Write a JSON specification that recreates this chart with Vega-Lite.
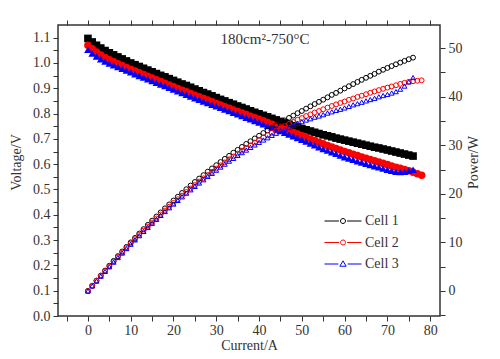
{
  "$schema": "https://vega.github.io/schema/vega-lite/v6.json",
  "width": 382,
  "height": 291,
  "autosize": {"type": "none"},
  "padding": {"left": 58, "top": 25, "right": 60, "bottom": 43},
  "background": "white",
  "title": {"text": "180cm²-750°C", "orient": "top", "anchor": "middle", "offset": -27, "dx": 16, "font": "Liberation Serif", "fontSize": 15, "fontWeight": "normal", "color": "#333"},
  "config": {
    "view": {"stroke": "#333", "strokeWidth": 1.5},
    "font": "Liberation Serif",
    "axis": {"labelFont": "Liberation Serif", "titleFont": "Liberation Serif", "labelFontSize": 14, "titleFontSize": 14, "titleFontWeight": "normal", "labelColor": "#333", "titleColor": "#333", "tickColor": "#333", "tickWidth": 1, "grid": false, "domain": false, "labelFlush": false, "labelOverlap": false, "labelBound": false},
    "legend": {"orient": "none", "legendX": 266, "legendY": 186, "title": null, "symbolSize": 1369, "clipHeight": 20, "rowPadding": 1.5, "labelFont": "Liberation Serif", "labelFontSize": 14, "labelColor": "#333", "labelOffset": 3, "symbolStrokeWidth": 1, "symbolOpacity": 1}
  },
  "data": {"values": [
{"cell":"Cell 1","current":0,"voltage":1.097,"power":0},
{"cell":"Cell 1","current":1,"voltage":1.083,"power":1.08},
{"cell":"Cell 1","current":2,"voltage":1.070,"power":2.14},
{"cell":"Cell 1","current":3,"voltage":1.059,"power":3.18},
{"cell":"Cell 1","current":4,"voltage":1.049,"power":4.20},
{"cell":"Cell 1","current":5,"voltage":1.040,"power":5.20},
{"cell":"Cell 1","current":6,"voltage":1.032,"power":6.19},
{"cell":"Cell 1","current":7,"voltage":1.024,"power":7.17},
{"cell":"Cell 1","current":8,"voltage":1.016,"power":8.13},
{"cell":"Cell 1","current":9,"voltage":1.008,"power":9.07},
{"cell":"Cell 1","current":10,"voltage":1.000,"power":10.00},
{"cell":"Cell 1","current":11,"voltage":0.993,"power":10.92},
{"cell":"Cell 1","current":12,"voltage":0.986,"power":11.83},
{"cell":"Cell 1","current":13,"voltage":0.979,"power":12.73},
{"cell":"Cell 1","current":14,"voltage":0.972,"power":13.61},
{"cell":"Cell 1","current":15,"voltage":0.965,"power":14.48},
{"cell":"Cell 1","current":16,"voltage":0.958,"power":15.33},
{"cell":"Cell 1","current":17,"voltage":0.951,"power":16.17},
{"cell":"Cell 1","current":18,"voltage":0.945,"power":17.01},
{"cell":"Cell 1","current":19,"voltage":0.938,"power":17.82},
{"cell":"Cell 1","current":20,"voltage":0.931,"power":18.62},
{"cell":"Cell 1","current":21,"voltage":0.924,"power":19.40},
{"cell":"Cell 1","current":22,"voltage":0.917,"power":20.17},
{"cell":"Cell 1","current":23,"voltage":0.911,"power":20.95},
{"cell":"Cell 1","current":24,"voltage":0.904,"power":21.70},
{"cell":"Cell 1","current":25,"voltage":0.897,"power":22.43},
{"cell":"Cell 1","current":26,"voltage":0.890,"power":23.14},
{"cell":"Cell 1","current":27,"voltage":0.883,"power":23.84},
{"cell":"Cell 1","current":28,"voltage":0.877,"power":24.56},
{"cell":"Cell 1","current":29,"voltage":0.870,"power":25.23},
{"cell":"Cell 1","current":30,"voltage":0.863,"power":25.89},
{"cell":"Cell 1","current":31,"voltage":0.856,"power":26.54},
{"cell":"Cell 1","current":32,"voltage":0.850,"power":27.20},
{"cell":"Cell 1","current":33,"voltage":0.843,"power":27.82},
{"cell":"Cell 1","current":34,"voltage":0.837,"power":28.46},
{"cell":"Cell 1","current":35,"voltage":0.830,"power":29.05},
{"cell":"Cell 1","current":36,"voltage":0.824,"power":29.66},
{"cell":"Cell 1","current":37,"voltage":0.818,"power":30.27},
{"cell":"Cell 1","current":38,"voltage":0.811,"power":30.82},
{"cell":"Cell 1","current":39,"voltage":0.805,"power":31.40},
{"cell":"Cell 1","current":40,"voltage":0.799,"power":31.96},
{"cell":"Cell 1","current":41,"voltage":0.793,"power":32.51},
{"cell":"Cell 1","current":42,"voltage":0.787,"power":33.05},
{"cell":"Cell 1","current":43,"voltage":0.781,"power":33.58},
{"cell":"Cell 1","current":44,"voltage":0.775,"power":34.10},
{"cell":"Cell 1","current":45,"voltage":0.769,"power":34.61},
{"cell":"Cell 1","current":46,"voltage":0.763,"power":35.10},
{"cell":"Cell 1","current":47,"voltage":0.758,"power":35.63},
{"cell":"Cell 1","current":48,"voltage":0.752,"power":36.10},
{"cell":"Cell 1","current":49,"voltage":0.747,"power":36.60},
{"cell":"Cell 1","current":50,"voltage":0.741,"power":37.05},
{"cell":"Cell 1","current":51,"voltage":0.736,"power":37.54},
{"cell":"Cell 1","current":52,"voltage":0.731,"power":38.01},
{"cell":"Cell 1","current":53,"voltage":0.726,"power":38.48},
{"cell":"Cell 1","current":54,"voltage":0.721,"power":38.93},
{"cell":"Cell 1","current":55,"voltage":0.716,"power":39.38},
{"cell":"Cell 1","current":56,"voltage":0.712,"power":39.87},
{"cell":"Cell 1","current":57,"voltage":0.708,"power":40.36},
{"cell":"Cell 1","current":58,"voltage":0.703,"power":40.77},
{"cell":"Cell 1","current":59,"voltage":0.699,"power":41.24},
{"cell":"Cell 1","current":60,"voltage":0.695,"power":41.70},
{"cell":"Cell 1","current":61,"voltage":0.691,"power":42.15},
{"cell":"Cell 1","current":62,"voltage":0.687,"power":42.59},
{"cell":"Cell 1","current":63,"voltage":0.683,"power":43.03},
{"cell":"Cell 1","current":64,"voltage":0.679,"power":43.46},
{"cell":"Cell 1","current":65,"voltage":0.675,"power":43.88},
{"cell":"Cell 1","current":66,"voltage":0.671,"power":44.29},
{"cell":"Cell 1","current":67,"voltage":0.667,"power":44.69},
{"cell":"Cell 1","current":68,"voltage":0.664,"power":45.15},
{"cell":"Cell 1","current":69,"voltage":0.660,"power":45.54},
{"cell":"Cell 1","current":70,"voltage":0.656,"power":45.92},
{"cell":"Cell 1","current":71,"voltage":0.652,"power":46.29},
{"cell":"Cell 1","current":72,"voltage":0.648,"power":46.66},
{"cell":"Cell 1","current":73,"voltage":0.644,"power":47.01},
{"cell":"Cell 1","current":74,"voltage":0.640,"power":47.36},
{"cell":"Cell 1","current":75,"voltage":0.636,"power":47.70},
{"cell":"Cell 1","current":76,"voltage":0.632,"power":48.03},
{"cell":"Cell 2","current":0,"voltage":1.070,"power":0},
{"cell":"Cell 2","current":1,"voltage":1.056,"power":1.06},
{"cell":"Cell 2","current":2,"voltage":1.043,"power":2.09},
{"cell":"Cell 2","current":3,"voltage":1.031,"power":3.09},
{"cell":"Cell 2","current":4,"voltage":1.021,"power":4.08},
{"cell":"Cell 2","current":5,"voltage":1.012,"power":5.06},
{"cell":"Cell 2","current":6,"voltage":1.005,"power":6.03},
{"cell":"Cell 2","current":7,"voltage":0.997,"power":6.98},
{"cell":"Cell 2","current":8,"voltage":0.990,"power":7.92},
{"cell":"Cell 2","current":9,"voltage":0.982,"power":8.84},
{"cell":"Cell 2","current":10,"voltage":0.975,"power":9.75},
{"cell":"Cell 2","current":11,"voltage":0.968,"power":10.65},
{"cell":"Cell 2","current":12,"voltage":0.961,"power":11.53},
{"cell":"Cell 2","current":13,"voltage":0.954,"power":12.40},
{"cell":"Cell 2","current":14,"voltage":0.947,"power":13.26},
{"cell":"Cell 2","current":15,"voltage":0.940,"power":14.10},
{"cell":"Cell 2","current":16,"voltage":0.933,"power":14.93},
{"cell":"Cell 2","current":17,"voltage":0.926,"power":15.74},
{"cell":"Cell 2","current":18,"voltage":0.920,"power":16.56},
{"cell":"Cell 2","current":19,"voltage":0.913,"power":17.35},
{"cell":"Cell 2","current":20,"voltage":0.906,"power":18.12},
{"cell":"Cell 2","current":21,"voltage":0.899,"power":18.88},
{"cell":"Cell 2","current":22,"voltage":0.892,"power":19.62},
{"cell":"Cell 2","current":23,"voltage":0.886,"power":20.38},
{"cell":"Cell 2","current":24,"voltage":0.879,"power":21.10},
{"cell":"Cell 2","current":25,"voltage":0.872,"power":21.80},
{"cell":"Cell 2","current":26,"voltage":0.866,"power":22.52},
{"cell":"Cell 2","current":27,"voltage":0.859,"power":23.19},
{"cell":"Cell 2","current":28,"voltage":0.853,"power":23.88},
{"cell":"Cell 2","current":29,"voltage":0.846,"power":24.53},
{"cell":"Cell 2","current":30,"voltage":0.840,"power":25.20},
{"cell":"Cell 2","current":31,"voltage":0.834,"power":25.85},
{"cell":"Cell 2","current":32,"voltage":0.827,"power":26.46},
{"cell":"Cell 2","current":33,"voltage":0.821,"power":27.09},
{"cell":"Cell 2","current":34,"voltage":0.814,"power":27.68},
{"cell":"Cell 2","current":35,"voltage":0.808,"power":28.28},
{"cell":"Cell 2","current":36,"voltage":0.802,"power":28.87},
{"cell":"Cell 2","current":37,"voltage":0.796,"power":29.45},
{"cell":"Cell 2","current":38,"voltage":0.789,"power":29.98},
{"cell":"Cell 2","current":39,"voltage":0.783,"power":30.54},
{"cell":"Cell 2","current":40,"voltage":0.777,"power":31.08},
{"cell":"Cell 2","current":41,"voltage":0.771,"power":31.61},
{"cell":"Cell 2","current":42,"voltage":0.764,"power":32.09},
{"cell":"Cell 2","current":43,"voltage":0.758,"power":32.59},
{"cell":"Cell 2","current":44,"voltage":0.751,"power":33.04},
{"cell":"Cell 2","current":45,"voltage":0.745,"power":33.53},
{"cell":"Cell 2","current":46,"voltage":0.738,"power":33.95},
{"cell":"Cell 2","current":47,"voltage":0.732,"power":34.40},
{"cell":"Cell 2","current":48,"voltage":0.725,"power":34.80},
{"cell":"Cell 2","current":49,"voltage":0.719,"power":35.23},
{"cell":"Cell 2","current":50,"voltage":0.712,"power":35.60},
{"cell":"Cell 2","current":51,"voltage":0.706,"power":36.01},
{"cell":"Cell 2","current":52,"voltage":0.699,"power":36.35},
{"cell":"Cell 2","current":53,"voltage":0.693,"power":36.73},
{"cell":"Cell 2","current":54,"voltage":0.686,"power":37.04},
{"cell":"Cell 2","current":55,"voltage":0.680,"power":37.40},
{"cell":"Cell 2","current":56,"voltage":0.674,"power":37.74},
{"cell":"Cell 2","current":57,"voltage":0.668,"power":38.08},
{"cell":"Cell 2","current":58,"voltage":0.662,"power":38.40},
{"cell":"Cell 2","current":59,"voltage":0.656,"power":38.70},
{"cell":"Cell 2","current":60,"voltage":0.650,"power":39.00},
{"cell":"Cell 2","current":61,"voltage":0.645,"power":39.35},
{"cell":"Cell 2","current":62,"voltage":0.639,"power":39.62},
{"cell":"Cell 2","current":63,"voltage":0.634,"power":39.94},
{"cell":"Cell 2","current":64,"voltage":0.628,"power":40.19},
{"cell":"Cell 2","current":65,"voltage":0.623,"power":40.50},
{"cell":"Cell 2","current":66,"voltage":0.618,"power":40.79},
{"cell":"Cell 2","current":67,"voltage":0.613,"power":41.07},
{"cell":"Cell 2","current":68,"voltage":0.608,"power":41.34},
{"cell":"Cell 2","current":69,"voltage":0.603,"power":41.61},
{"cell":"Cell 2","current":70,"voltage":0.598,"power":41.86},
{"cell":"Cell 2","current":71,"voltage":0.593,"power":42.10},
{"cell":"Cell 2","current":72,"voltage":0.588,"power":42.34},
{"cell":"Cell 2","current":73,"voltage":0.584,"power":42.63},
{"cell":"Cell 2","current":74,"voltage":0.579,"power":42.85},
{"cell":"Cell 2","current":75,"voltage":0.574,"power":43.05},
{"cell":"Cell 2","current":76,"voltage":0.568,"power":43.17},
{"cell":"Cell 2","current":77,"voltage":0.562,"power":43.27},
{"cell":"Cell 2","current":78,"voltage":0.556,"power":43.37},
{"cell":"Cell 3","current":0,"voltage":1.052,"power":0},
{"cell":"Cell 3","current":1,"voltage":1.038,"power":1.04},
{"cell":"Cell 3","current":2,"voltage":1.026,"power":2.05},
{"cell":"Cell 3","current":3,"voltage":1.015,"power":3.05},
{"cell":"Cell 3","current":4,"voltage":1.006,"power":4.02},
{"cell":"Cell 3","current":5,"voltage":0.998,"power":4.99},
{"cell":"Cell 3","current":6,"voltage":0.991,"power":5.95},
{"cell":"Cell 3","current":7,"voltage":0.984,"power":6.89},
{"cell":"Cell 3","current":8,"voltage":0.977,"power":7.82},
{"cell":"Cell 3","current":9,"voltage":0.970,"power":8.73},
{"cell":"Cell 3","current":10,"voltage":0.963,"power":9.63},
{"cell":"Cell 3","current":11,"voltage":0.956,"power":10.52},
{"cell":"Cell 3","current":12,"voltage":0.949,"power":11.39},
{"cell":"Cell 3","current":13,"voltage":0.943,"power":12.26},
{"cell":"Cell 3","current":14,"voltage":0.936,"power":13.10},
{"cell":"Cell 3","current":15,"voltage":0.929,"power":13.94},
{"cell":"Cell 3","current":16,"voltage":0.922,"power":14.75},
{"cell":"Cell 3","current":17,"voltage":0.915,"power":15.56},
{"cell":"Cell 3","current":18,"voltage":0.909,"power":16.36},
{"cell":"Cell 3","current":19,"voltage":0.902,"power":17.14},
{"cell":"Cell 3","current":20,"voltage":0.895,"power":17.90},
{"cell":"Cell 3","current":21,"voltage":0.888,"power":18.65},
{"cell":"Cell 3","current":22,"voltage":0.881,"power":19.38},
{"cell":"Cell 3","current":23,"voltage":0.875,"power":20.13},
{"cell":"Cell 3","current":24,"voltage":0.868,"power":20.83},
{"cell":"Cell 3","current":25,"voltage":0.861,"power":21.53},
{"cell":"Cell 3","current":26,"voltage":0.855,"power":22.23},
{"cell":"Cell 3","current":27,"voltage":0.848,"power":22.90},
{"cell":"Cell 3","current":28,"voltage":0.842,"power":23.58},
{"cell":"Cell 3","current":29,"voltage":0.835,"power":24.22},
{"cell":"Cell 3","current":30,"voltage":0.829,"power":24.87},
{"cell":"Cell 3","current":31,"voltage":0.823,"power":25.51},
{"cell":"Cell 3","current":32,"voltage":0.816,"power":26.11},
{"cell":"Cell 3","current":33,"voltage":0.810,"power":26.73},
{"cell":"Cell 3","current":34,"voltage":0.803,"power":27.30},
{"cell":"Cell 3","current":35,"voltage":0.797,"power":27.90},
{"cell":"Cell 3","current":36,"voltage":0.791,"power":28.48},
{"cell":"Cell 3","current":37,"voltage":0.784,"power":29.01},
{"cell":"Cell 3","current":38,"voltage":0.778,"power":29.56},
{"cell":"Cell 3","current":39,"voltage":0.771,"power":30.07},
{"cell":"Cell 3","current":40,"voltage":0.765,"power":30.60},
{"cell":"Cell 3","current":41,"voltage":0.758,"power":31.08},
{"cell":"Cell 3","current":42,"voltage":0.751,"power":31.54},
{"cell":"Cell 3","current":43,"voltage":0.745,"power":32.04},
{"cell":"Cell 3","current":44,"voltage":0.738,"power":32.47},
{"cell":"Cell 3","current":45,"voltage":0.731,"power":32.90},
{"cell":"Cell 3","current":46,"voltage":0.724,"power":33.30},
{"cell":"Cell 3","current":47,"voltage":0.717,"power":33.70},
{"cell":"Cell 3","current":48,"voltage":0.711,"power":34.13},
{"cell":"Cell 3","current":49,"voltage":0.704,"power":34.50},
{"cell":"Cell 3","current":50,"voltage":0.697,"power":34.85},
{"cell":"Cell 3","current":51,"voltage":0.690,"power":35.19},
{"cell":"Cell 3","current":52,"voltage":0.682,"power":35.46},
{"cell":"Cell 3","current":53,"voltage":0.675,"power":35.78},
{"cell":"Cell 3","current":54,"voltage":0.667,"power":36.02},
{"cell":"Cell 3","current":55,"voltage":0.660,"power":36.30},
{"cell":"Cell 3","current":56,"voltage":0.654,"power":36.62},
{"cell":"Cell 3","current":57,"voltage":0.647,"power":36.88},
{"cell":"Cell 3","current":58,"voltage":0.641,"power":37.18},
{"cell":"Cell 3","current":59,"voltage":0.634,"power":37.41},
{"cell":"Cell 3","current":60,"voltage":0.628,"power":37.68},
{"cell":"Cell 3","current":61,"voltage":0.623,"power":38.00},
{"cell":"Cell 3","current":62,"voltage":0.618,"power":38.32},
{"cell":"Cell 3","current":63,"voltage":0.612,"power":38.56},
{"cell":"Cell 3","current":64,"voltage":0.607,"power":38.85},
{"cell":"Cell 3","current":65,"voltage":0.602,"power":39.13},
{"cell":"Cell 3","current":66,"voltage":0.597,"power":39.40},
{"cell":"Cell 3","current":67,"voltage":0.592,"power":39.66},
{"cell":"Cell 3","current":68,"voltage":0.588,"power":39.98},
{"cell":"Cell 3","current":69,"voltage":0.583,"power":40.23},
{"cell":"Cell 3","current":70,"voltage":0.578,"power":40.46},
{"cell":"Cell 3","current":71,"voltage":0.574,"power":40.75},
{"cell":"Cell 3","current":72,"voltage":0.570,"power":41.04},
{"cell":"Cell 3","current":73,"voltage":0.569,"power":41.54},
{"cell":"Cell 3","current":74,"voltage":0.570,"power":42.18},
{"cell":"Cell 3","current":75,"voltage":0.574,"power":43.05},
{"cell":"Cell 3","current":76,"voltage":0.578,"power":43.93}
  ]},
  "layer": [
    {
      "mark": {"type": "point", "filled": true, "size": 58, "opacity": 1},
      "encoding": {
        "x": {"field": "current", "type": "quantitative", "scale": {"domain": [-7, 82.3], "nice": false, "zero": false},
          "axis": {"orient": "bottom", "title": "Current/A", "values": [-5,0,5,10,15,20,25,30,35,40,45,50,55,60,65,70,75,80],
            "labelExpr": "datum.value % 10 === 0 ? datum.label : ''", "labelOverlap": false, "tickSize": 5, "labelPadding": 2, "titlePadding": 1,
            "encode": {"ticks": {"y2": {"value": {"expr": "datum.value % 10 === 0 ? -5 : -3"}}}}}},
        "y": {"field": "voltage", "type": "quantitative", "scale": {"domain": [0, 1.15], "nice": false, "zero": false},
          "axis": {"orient": "left", "title": "Voltage/V", "values": [0,0.05,0.1,0.15,0.2,0.25,0.3,0.35,0.4,0.45,0.5,0.55,0.6,0.65,0.7,0.75,0.8,0.85,0.9,0.95,1,1.05,1.1],
            "labelExpr": "round(datum.value*100) % 10 === 0 ? format(datum.value, '.1f') : ''", "labelOverlap": false, "tickSize": 5, "labelPadding": 3, "titlePadding": 9, "titleY": 137,
            "encode": {"ticks": {"x2": {"value": {"expr": "round(datum.value*100) % 10 === 0 ? -5 : -3"}}}}}},
        "color": {"field": "cell", "type": "nominal", "scale": {"domain": ["Cell 1", "Cell 2", "Cell 3"], "range": ["#000000", "#ff0000", "#0000ff"]}, "legend": null},
        "shape": {"field": "cell", "type": "nominal", "scale": {"domain": ["Cell 1", "Cell 2", "Cell 3"], "range": ["square", "circle", "triangle-up"]}, "legend": null}
      }
    },
    {
      "mark": {"type": "point", "filled": false, "size": 24, "strokeWidth": 1, "opacity": 1},
      "encoding": {
        "x": {"field": "current", "type": "quantitative", "scale": {"domain": [-7, 82.3], "nice": false, "zero": false},
          "axis": {"orient": "top", "title": null, "labels": false, "values": [-5,0,5,10,15,20,25,30,35,40,45,50,55,60,65,70,75,80], "tickSize": 5,
            "encode": {"ticks": {"y2": {"value": {"expr": "datum.value % 10 === 0 ? 5 : 3"}}}}}},
        "y": {"field": "power", "type": "quantitative", "scale": {"domain": [-5.15, 54.75], "nice": false, "zero": false},
          "axis": {"orient": "right", "title": "Power/W", "titleAngle": 270, "titleBaseline": "top", "titleY": 137, "titlePadding": 4, "labelOverlap": false,
            "values": [-5,0,5,10,15,20,25,30,35,40,45,50], "labelExpr": "datum.value % 10 === 0 ? datum.label : ''", "tickSize": 5, "labelPadding": 3,
            "encode": {"ticks": {"x2": {"value": {"expr": "datum.value % 10 === 0 ? 5 : 3"}}}}}},
        "color": {"field": "cell", "type": "nominal", "scale": {"domain": ["Cell 1", "Cell 2", "Cell 3"], "range": ["#000000", "#ff0000", "#0000ff"]}, "legend": null},
        "shape": {"field": "cell", "type": "nominal", "scale": {"domain": ["Cell 1", "Cell 2", "Cell 3"], "range": ["circle", "circle", "triangle-up"]}, "legend": null}
      }
    },
    {
      "mark": {"type": "point", "filled": false, "size": 20, "opacity": 0},
      "encoding": {
        "x": {"field": "current", "type": "quantitative", "scale": {"domain": [-7, 82.3], "nice": false, "zero": false}, "axis": null},
        "y": {"field": "power", "type": "quantitative", "scale": {"domain": [-5.15, 54.75], "nice": false, "zero": false}, "axis": null},
        "color": {"field": "cell", "type": "nominal", "scale": {"domain": ["Cell 1", "Cell 2", "Cell 3"], "range": ["#000000", "#ff0000", "#0000ff"]}, "legend": {"symbolOpacity": 1}},
        "shape": {"field": "cell", "type": "nominal", "scale": {"domain": ["Cell 1", "Cell 2", "Cell 3"], "range": [
          "M-1,0H-0.22M0.22,0H1M-0.135,0A0.135,0.135,0,1,1,0.135,0A0.135,0.135,0,1,1,-0.135,0Z",
          "M-1,0H-0.22M0.22,0H1M-0.135,0A0.135,0.135,0,1,1,0.135,0A0.135,0.135,0,1,1,-0.135,0Z",
          "M-1,0H-0.25M0.25,0H1M0,-0.17L0.17,0.12L-0.17,0.12Z"]}, "legend": {"symbolOpacity": 1}}
      }
    }
  ],
  "resolve": {"scale": {"y": "independent", "shape": "independent", "color": "independent"}, "axis": {"x": "independent"}}
}
